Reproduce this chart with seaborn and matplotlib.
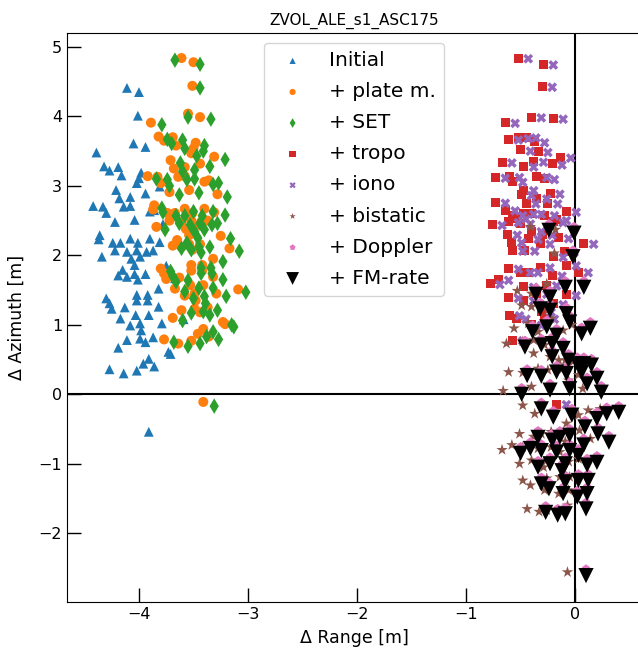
import matplotlib
matplotlib.use("Agg")
import matplotlib.pyplot as plt
import seaborn as sns
import pandas as pd

# ---------------- data ----------------
init_x = [-4.11, -4.00, -4.01, -4.05, -3.94, -4.39, -4.32, -4.27, -4.19, -4.16,
          -3.98, -4.00, -4.02, -3.94, -3.81, -4.21, -4.18, -4.08, -4.42, -4.33,
          -4.30, -4.14, -4.08, -4.22, -4.04, -3.90, -3.86, -4.36, -4.37, -4.24,
          -4.17, -4.08, -4.01, -3.90, -3.81, -4.34, -4.22, -4.11, -4.02, -3.93,
          -3.87, -4.07, -3.99, -4.04, -4.15, -4.19, -4.11, -4.04, -3.94, -4.01,
          -3.82, -4.30, -4.27, -4.25, -4.02, -3.92, -4.02, -3.92, -4.13, -3.82,
          -4.03, -3.91, -4.17, -4.08, -3.99, -3.98, -3.79, -4.11, -3.99, -3.94,
          -3.87, -4.19, -3.73, -3.71, -3.91, -3.96, -3.86, -4.27, -4.14, -4.02,
          -3.91, -3.67, -3.59, -3.78, -3.75]
init_y = [4.41, 4.35, 4.01, 3.61, 3.56, 3.48, 3.28, 3.22, 3.27, 3.15,
          3.19, 3.11, 3.04, 2.89, 2.99, 2.94, 2.82, 2.84, 2.71, 2.70,
          2.61, 2.70, 2.71, 2.48, 2.51, 2.63, 2.65, 2.29, 2.23, 2.18,
          2.18, 2.24, 2.18, 2.24, 2.19, 1.98, 2.07, 2.05, 2.07, 2.05,
          2.07, 1.95, 1.98, 1.86, 1.79, 1.71, 1.69, 1.73, 1.73, 1.65,
          1.52, 1.38, 1.31, 1.23, 1.43, 1.43, 1.35, 1.35, 1.25, 1.26,
          1.14, 1.14, 1.09, 0.99, 1.02, 0.92, 1.02, 0.78, 0.80, 0.75,
          0.82, 0.67, 0.61, 0.58, 0.51, 0.44, 0.40, 0.36, 0.30, 0.34,
          -0.54, 1.67, 1.08, 2.45, 1.85]

plate_x = [-3.61, -3.50, -3.51, -3.55, -3.44, -3.89, -3.82, -3.77, -3.69, -3.66,
           -3.48, -3.50, -3.52, -3.44, -3.31, -3.71, -3.68, -3.58, -3.92, -3.83,
           -3.80, -3.64, -3.58, -3.72, -3.54, -3.40, -3.36, -3.86, -3.87, -3.74,
           -3.67, -3.58, -3.51, -3.40, -3.31, -3.84, -3.72, -3.61, -3.52, -3.43,
           -3.37, -3.57, -3.49, -3.54, -3.65, -3.69, -3.61, -3.54, -3.44, -3.51,
           -3.32, -3.80, -3.77, -3.75, -3.52, -3.42, -3.52, -3.42, -3.63, -3.32,
           -3.53, -3.41, -3.67, -3.58, -3.49, -3.48, -3.29, -3.61, -3.49, -3.44,
           -3.37, -3.69, -3.23, -3.21, -3.41, -3.46, -3.36, -3.77, -3.64, -3.52,
           -3.41, -3.17, -3.09, -3.28, -3.25]
plate_y = [4.84, 4.78, 4.44, 4.04, 3.99, 3.91, 3.71, 3.65, 3.70, 3.58,
           3.62, 3.54, 3.47, 3.32, 3.42, 3.37, 3.25, 3.27, 3.14, 3.13,
           3.04, 3.13, 3.14, 2.91, 2.94, 3.06, 3.08, 2.72, 2.66, 2.61,
           2.61, 2.67, 2.61, 2.67, 2.62, 2.41, 2.50, 2.48, 2.50, 2.48,
           2.50, 2.38, 2.41, 2.29, 2.22, 2.14, 2.12, 2.16, 2.16, 2.08,
           1.95, 1.81, 1.74, 1.66, 1.86, 1.86, 1.78, 1.78, 1.68, 1.69,
           1.57, 1.57, 1.52, 1.42, 1.45, 1.35, 1.45, 1.21, 1.23, 1.18,
           1.25, 1.10, 1.04, 1.01, 0.94, 0.87, 0.83, 0.79, 0.73, 0.77,
           -0.11, 2.10, 1.51, 2.88, 2.28]

set_x = [-3.67, -3.44, -3.44, -3.55, -3.34, -3.79, -3.74, -3.70, -3.60, -3.58,
         -3.40, -3.41, -3.47, -3.35, -3.21, -3.62, -3.60, -3.49, -3.84, -3.74,
         -3.72, -3.56, -3.49, -3.63, -3.45, -3.32, -3.27, -3.79, -3.78, -3.66,
         -3.58, -3.50, -3.42, -3.32, -3.21, -3.76, -3.63, -3.53, -3.44, -3.33,
         -3.28, -3.49, -3.40, -3.46, -3.56, -3.61, -3.52, -3.45, -3.35, -3.43,
         -3.23, -3.71, -3.69, -3.66, -3.43, -3.34, -3.43, -3.33, -3.55, -3.23,
         -3.45, -3.32, -3.58, -3.50, -3.40, -3.39, -3.20, -3.52, -3.41, -3.35,
         -3.28, -3.60, -3.15, -3.13, -3.32, -3.38, -3.27, -3.68, -3.55, -3.44,
         -3.31, -3.08, -3.02, -3.19, -3.16]
set_y = [4.81, 4.75, 4.41, 3.99, 3.96, 3.88, 3.67, 3.61, 3.66, 3.54,
         3.58, 3.50, 3.43, 3.28, 3.38, 3.33, 3.21, 3.23, 3.10, 3.09,
         3.00, 3.09, 3.10, 2.87, 2.90, 3.02, 3.04, 2.68, 2.62, 2.57,
         2.57, 2.63, 2.57, 2.63, 2.58, 2.37, 2.46, 2.44, 2.46, 2.44,
         2.46, 2.34, 2.37, 2.25, 2.18, 2.10, 2.08, 2.12, 2.12, 2.04,
         1.91, 1.77, 1.70, 1.62, 1.82, 1.82, 1.74, 1.74, 1.64, 1.65,
         1.53, 1.53, 1.48, 1.38, 1.41, 1.31, 1.41, 1.17, 1.19, 1.14,
         1.21, 1.06, 1.00, 0.97, 0.90, 0.83, 0.79, 0.75, 0.69, 0.73,
         -0.17, 2.06, 1.47, 2.84, 2.24]

tropo_x = [-0.52, -0.29, -0.30, -0.64, -0.40, -0.20, -0.61, -0.52, -0.50, -0.37,
           -0.34, -0.67, -0.47, -0.21, -0.13, -0.73, -0.60, -0.57, -0.35, -0.47,
           -0.49, -0.23, -0.35, -0.73, -0.64, -0.57, -0.47, -0.28, -0.08, -0.76,
           -0.61, -0.50, -0.20, -0.54, -0.40, -0.17, -0.58, -0.43, -0.57, -0.46,
           -0.32, -0.20, -0.08, 0.08, 0.03, -0.61, -0.50, -0.43, -0.32, -0.21,
           -0.78, -0.70, -0.61, -0.47, -0.26, -0.08, -0.60, -0.54, -0.28, -0.57,
           -0.31, -0.47, -0.17, -0.45, -0.38, -0.28, -0.40, -0.30, -0.15, -0.10,
           -0.35, -0.40, -0.20, -0.45, -0.25, -0.62]
tropo_y = [4.83, 4.75, 4.43, 3.91, 3.99, 3.97, 3.67, 3.70, 3.52, 3.64,
           3.49, 3.34, 3.28, 3.32, 3.41, 3.12, 3.13, 3.06, 3.13, 2.94,
           2.87, 2.89, 2.82, 2.76, 2.65, 2.58, 2.60, 2.58, 2.63, 2.44,
           2.48, 2.46, 2.48, 2.53, 2.60, 2.51, 2.19, 2.24, 2.07, 2.07,
           2.17, 1.98, 1.86, 2.17, 1.76, 1.81, 1.76, 1.76, 1.83, 1.71,
           1.59, 1.65, 1.39, 1.55, 1.57, 1.43, 1.14, 1.09, 1.09, 0.78,
           1.19, 1.35, -0.14, 3.70, 3.35, 3.10, 2.35, 2.30, 2.25, 2.05,
           1.45, 1.00, 1.30, 2.75, 2.75, 2.30]

iono_x = [-0.43, -0.20, -0.21, -0.55, -0.31, -0.11, -0.52, -0.43, -0.41, -0.28,
          -0.25, -0.58, -0.38, -0.12, -0.04, -0.64, -0.51, -0.48, -0.26, -0.38,
          -0.40, -0.14, -0.26, -0.64, -0.55, -0.48, -0.38, -0.19, 0.01, -0.67,
          -0.52, -0.41, -0.11, -0.45, -0.31, -0.08, -0.49, -0.34, -0.48, -0.37,
          -0.23, -0.11, 0.01, 0.17, 0.12, -0.52, -0.41, -0.34, -0.23, -0.12,
          -0.69, -0.61, -0.52, -0.38, -0.17, 0.01, -0.51, -0.45, -0.19, -0.48,
          -0.22, -0.38, -0.08, -0.36, -0.29, -0.19, -0.31, -0.21, -0.06, -0.01,
          -0.26, -0.31, -0.11, -0.36, -0.16, -0.53]
iono_y = [4.83, 4.74, 4.42, 3.90, 3.98, 3.96, 3.66, 3.68, 3.50, 3.62,
          3.48, 3.33, 3.27, 3.30, 3.40, 3.11, 3.12, 3.05, 3.12, 2.93,
          2.86, 2.88, 2.81, 2.75, 2.64, 2.57, 2.59, 2.57, 2.62, 2.43,
          2.47, 2.45, 2.47, 2.52, 2.59, 2.50, 2.18, 2.23, 2.06, 2.06,
          2.16, 1.97, 1.85, 2.16, 1.75, 1.80, 1.75, 1.75, 1.82, 1.70,
          1.58, 1.64, 1.38, 1.54, 1.56, 1.42, 1.13, 1.08, 1.08, 0.77,
          1.18, 1.34, -0.15, 3.69, 3.34, 3.09, 2.34, 2.29, 2.24, 2.04,
          1.44, 0.99, 1.29, 2.74, 2.74, 2.29]

fm_x = [-0.24, -0.01, -0.02, 0.08, -0.09, -0.36, -0.23, -0.32, -0.23, -0.08,
        -0.05, 0.14, 0.06, -0.39, -0.26, -0.17, -0.46, -0.31, -0.21, -0.11,
        -0.21, -0.06, 0.02, 0.08, 0.15, -0.44, -0.31, -0.17, -0.08, 0.06,
        0.20, -0.49, -0.23, -0.05, 0.24, 0.11, -0.31, -0.20, -0.03, 0.09,
        0.20, 0.29, 0.40, 0.21, 0.31, -0.34, -0.21, -0.14, -0.05, 0.08,
        -0.50, -0.41, -0.31, -0.17, -0.05, 0.03, -0.34, -0.23, -0.09, -0.12,
        0.11, 0.20, -0.31, -0.24, -0.09, 0.03, 0.12, -0.11, 0.02, 0.11,
        -0.27, -0.16, -0.09, 0.10, 0.10]
fm_y = [2.36, 2.32, 1.98, 1.54, 1.54, 1.44, 1.40, 1.23, 1.21, 1.16,
        1.04, 0.95, 0.87, 0.90, 0.97, 0.85, 0.68, 0.71, 0.73, 0.66,
        0.54, 0.49, 0.44, 0.44, 0.42, 0.27, 0.26, 0.32, 0.30, 0.32,
        0.23, 0.00, 0.06, 0.08, 0.03, 0.15, -0.21, -0.33, -0.30, -0.47,
        -0.35, -0.28, -0.26, -0.57, -0.69, -0.62, -0.66, -0.62, -0.59, -0.73,
        -0.85, -0.78, -0.81, -0.83, -0.81, -0.88, -1.05, -1.00, -1.00, -1.10,
        -1.02, -0.98, -1.29, -1.36, -1.26, -1.24, -1.24, -1.43, -1.48, -1.43,
        -1.70, -1.74, -1.72, -1.65, -2.61]

dop_x = [-0.24, -0.01, -0.02, 0.08, -0.09, -0.36, -0.23, -0.32, -0.23, -0.08,
         -0.05, 0.14, 0.06, -0.39, -0.26, -0.17, -0.46, -0.31, -0.21, -0.11,
         -0.21, -0.06, 0.02, 0.08, 0.15, -0.44, -0.31, -0.17, -0.08, 0.06,
         0.20, -0.49, -0.23, -0.05, 0.24, 0.11, -0.31, -0.20, -0.03, 0.09,
         0.20, 0.29, 0.40, 0.21, 0.31, -0.34, -0.21, -0.14, -0.05, 0.08,
         -0.50, -0.41, -0.31, -0.17, -0.05, 0.03, -0.34, -0.23, -0.09, -0.12,
         0.11, 0.20, -0.31, -0.24, -0.09, 0.03, 0.12, -0.11, 0.02, 0.11,
         -0.27, -0.16, -0.09, 0.10, 0.10]
dop_y = [2.46, 2.42, 2.08, 1.64, 1.64, 1.54, 1.50, 1.33, 1.31, 1.26,
         1.14, 1.05, 0.97, 1.00, 1.07, 0.95, 0.78, 0.81, 0.83, 0.76,
         0.64, 0.59, 0.54, 0.54, 0.52, 0.37, 0.36, 0.42, 0.40, 0.42,
         0.33, 0.10, 0.16, 0.18, 0.13, 0.25, -0.11, -0.23, -0.20, -0.37,
         -0.25, -0.18, -0.16, -0.47, -0.59, -0.52, -0.56, -0.52, -0.49, -0.63,
         -0.75, -0.68, -0.71, -0.73, -0.71, -0.78, -0.95, -0.90, -0.90, -1.00,
         -0.92, -0.88, -1.19, -1.26, -1.16, -1.14, -1.14, -1.33, -1.38, -1.33,
         -1.60, -1.64, -1.62, -1.55, -2.51]

bist_x = [-0.41, -0.18, -0.19, -0.09, -0.26, -0.53, -0.40, -0.49, -0.40, -0.25,
          -0.22, -0.03, -0.11, -0.56, -0.43, -0.34, -0.63, -0.48, -0.38, -0.28,
          -0.38, -0.23, -0.15, -0.09, -0.02, -0.61, -0.48, -0.34, -0.25, -0.11,
          0.03, -0.66, -0.40, -0.22, 0.07, -0.06, -0.48, -0.37, -0.20, -0.08,
          0.03, 0.12, 0.23, 0.04, 0.14, -0.51, -0.38, -0.31, -0.22, -0.09,
          -0.67, -0.58, -0.48, -0.34, -0.22, -0.14, -0.51, -0.40, -0.26, -0.29,
          -0.06, 0.03, -0.48, -0.41, -0.26, -0.14, -0.05, -0.28, -0.15, -0.06,
          -0.44, -0.33, -0.26, -0.07, -0.07]
bist_y = [2.41, 2.37, 2.03, 1.59, 1.59, 1.49, 1.45, 1.28, 1.26, 1.21,
          1.09, 1.00, 0.92, 0.95, 1.02, 0.90, 0.73, 0.76, 0.78, 0.71,
          0.59, 0.54, 0.49, 0.49, 0.47, 0.32, 0.31, 0.37, 0.35, 0.37,
          0.28, 0.05, 0.11, 0.13, 0.08, 0.20, -0.16, -0.28, -0.25, -0.42,
          -0.30, -0.23, -0.21, -0.52, -0.64, -0.57, -0.61, -0.57, -0.54, -0.68,
          -0.80, -0.73, -0.76, -0.78, -0.76, -0.83, -1.00, -0.95, -0.95, -1.05,
          -0.97, -0.93, -1.24, -1.31, -1.21, -1.19, -1.19, -1.38, -1.43, -1.38,
          -1.65, -1.69, -1.67, -1.60, -2.56]

labels = ["Initial", "+ plate m.", "+ SET", "+ tropo", "+ iono",
          "+ bistatic", "+ Doppler", "+ FM-rate"]
title = "ZVOL_ALE_s1_ASC175"

# ---------------- plotting ----------------
series = [(init_x, init_y), (plate_x, plate_y), (set_x, set_y),
          (tropo_x, tropo_y), (iono_x, iono_y), (bist_x, bist_y),
          (dop_x, dop_y), (fm_x, fm_y)]
markers = ["^", "o", "d", "s", "X", "*", "p", "v"]
colors = ["tab:blue", "tab:orange", "tab:green", "tab:red", "tab:purple",
          "tab:brown", "tab:pink", "black"]
sizes = [50, 52, 62, 42, 50, 75, 40, 120]
leg_sizes = [20, 20, 24, 20, 20, 22, 20, 85]

fig = plt.figure(figsize=(6.38, 6.49), dpi=100)
ax = fig.add_axes([0.105, 0.0724, 0.9, 0.8767])

ax.axhline(0, color="black", lw=1.5, zorder=1)
ax.axvline(0, color="black", lw=1.5, zorder=1)

for (xs, ys), m, c, s, lab in zip(series, markers, colors, sizes, labels):
    df = pd.DataFrame({"x": xs, "y": ys})
    sns.scatterplot(data=df, x="x", y="y", marker=m, color=c, s=s,
                    edgecolor="none", linewidth=0, label=lab, ax=ax, zorder=2)

ax.set_xlim(-4.66, 0.606)
ax.set_ylim(-2.99, 5.2)
ax.set_xticks([-4, -3, -2, -1, 0])
ax.set_yticks([-2, -1, 0, 1, 2, 3, 4, 5])
ax.tick_params(direction="in", length=10, width=1, labelsize=11.5)
ax.set_xlabel("Δ Range [m]", fontsize=12.5, labelpad=5)
ax.set_ylabel("Δ Azimuth [m]", fontsize=12.5, labelpad=9)
ax.set_title(title, fontsize=11)

leg = ax.legend(loc="upper center", fontsize=14.5, labelspacing=0.6,
                frameon=True)
for h, s in zip(leg.legend_handles, leg_sizes):
    h.set_sizes([s])

fig.savefig("out.png", dpi=100)
